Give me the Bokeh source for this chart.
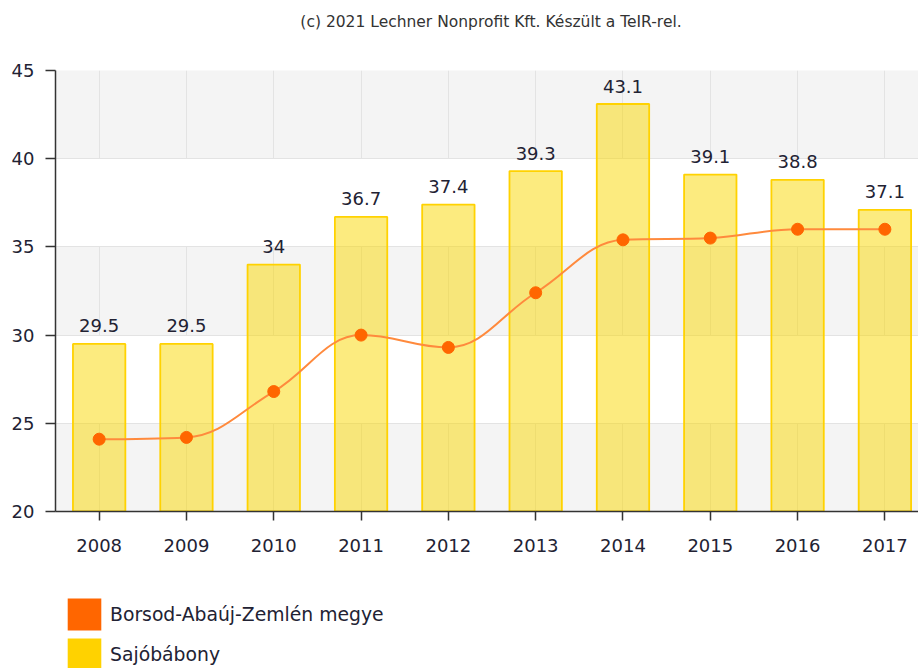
from bokeh.plotting import figure
from bokeh.layouts import column
from bokeh.models import (ColumnDataSource, Range1d, FixedTicker, Legend, LegendItem, Label)
from bokeh.core.properties import value
from bokeh.embed import file_html
from bokeh.resources import INLINE

years = ["2008", "2009", "2010", "2011", "2012", "2013", "2014", "2015", "2016", "2017"]
sajobabony = [29.5, 29.5, 34.0, 36.7, 37.4, 39.3, 43.1, 39.1, 38.8, 37.1]
borsod = [24.1, 24.2, 26.8, 30.0, 29.3, 32.4, 35.4, 35.5, 36.0, 36.0]
y_ticks = [20, 25, 30, 35, 40, 45]
series_names = ["Borsod-Abaúj-Zemlén megye", "Sajóbábony"]
title_text = "(c) 2021 Lechner Nonprofit Kft. Készült a TeIR-rel."

FONT = "DejaVu Sans"
xs = list(range(len(years)))

# ---- title strip ----
t = figure(width=918, height=40, output_backend="svg", toolbar_location=None,
           x_range=Range1d(0, 1), y_range=Range1d(0, 1),
           x_axis_location=None, y_axis_location=None,
           min_border_left=0, min_border_right=0, min_border_top=0, min_border_bottom=0)
t.grid.visible = False
t.outline_line_color = None
t.background_fill_color = "white"
t.border_fill_color = "white"
t.add_layout(Label(x=0.5, y=19, x_units="data", y_units="screen", x_offset=4,
                   text=title_text, text_font=FONT, text_font_size="15.5px",
                   text_color="#333333", text_align="center", text_baseline="middle"))

# ---- main chart ----
p = figure(width=918, height=530, output_backend="svg", toolbar_location=None,
           x_range=Range1d(-0.5, 9.385), y_range=Range1d(20, 45),
           min_border_left=55, min_border_right=0, min_border_top=30, min_border_bottom=59)
p.background_fill_color = "#f4f4f4"
p.border_fill_color = "white"
p.outline_line_color = None

# grids
p.xgrid.ticker = FixedTicker(ticks=xs)
p.xgrid.grid_line_color = "#e3e3e3"
p.ygrid.ticker = FixedTicker(ticks=y_ticks)
p.ygrid.grid_line_color = "#e3e3e3"
p.ygrid.band_fill_color = "white"
p.ygrid.band_fill_alpha = 1.0

# axes
p.xaxis.ticker = FixedTicker(ticks=xs)
p.xaxis.major_label_overrides = {i: y for i, y in enumerate(years)}
p.yaxis.ticker = FixedTicker(ticks=y_ticks)
for ax in (p.xaxis[0], p.yaxis[0]):
    ax.axis_line_color = "#333333"
    ax.axis_line_width = 1.5
    ax.major_tick_line_color = "#333333"
    ax.major_tick_line_width = 1.5
    ax.major_tick_in = 0
    ax.minor_tick_line_color = None
    ax.major_label_text_font = FONT
    ax.major_label_text_font_size = "18px"
    ax.major_label_text_color = "#222233"
p.yaxis.major_tick_out = 10
p.yaxis.major_label_standoff = 11
p.xaxis.major_tick_out = 9
p.xaxis.major_label_standoff = 18

# bars
bar_src = ColumnDataSource(dict(x=xs, top=sajobabony,
                                label=[f"{v:g}" for v in sajobabony]))
p.vbar(x="x", top="top", bottom=20, width=0.6, source=bar_src,
       fill_color="#fad700", fill_alpha=0.5, line_color="#ffd200", line_width=1.8)
p.text(x="x", y="top", text="label", source=bar_src, text_font=value(FONT),
       text_font_size="18px", text_color="#222233", text_align="center",
       text_baseline="alphabetic", y_offset=-18)

# smooth spline (Highcharts-style) through the county values
def spline_segments(xv, yv, smoothing=1.5):
    n = len(xv)
    right = [None] * n
    segs = []
    for i in range(n):
        px, py = xv[i], yv[i]
        lcx, lcy = px, py
        if 0 < i < n - 1:
            lx, ly = xv[i - 1], yv[i - 1]
            nx, ny = xv[i + 1], yv[i + 1]
            d = smoothing + 1
            lcx = (smoothing * px + lx) / d
            lcy = (smoothing * py + ly) / d
            rcx = (smoothing * px + nx) / d
            rcy = (smoothing * py + ny) / d
            corr = 0.0
            if rcx != lcx:
                corr = (rcy - lcy) * (rcx - px) / (rcx - lcx) + py - rcy
            lcy += corr
            rcy += corr
            if lcy > ly and lcy > py:
                lcy = max(ly, py); rcy = 2 * py - lcy
            elif lcy < ly and lcy < py:
                lcy = min(ly, py); rcy = 2 * py - lcy
            if rcy > ny and rcy > py:
                rcy = max(ny, py); lcy = 2 * py - rcy
            elif rcy < ny and rcy < py:
                rcy = min(ny, py); lcy = 2 * py - rcy
            right[i] = (rcx, rcy)
        if i > 0:
            rc = right[i - 1] if right[i - 1] is not None else (xv[i - 1], yv[i - 1])
            segs.append((xv[i - 1], yv[i - 1], px, py, rc[0], rc[1], lcx, lcy))
    return segs

segs = spline_segments(xs, borsod)
bz = ColumnDataSource(dict(
    x0=[s[0] for s in segs], y0=[s[1] for s in segs],
    x1=[s[2] for s in segs], y1=[s[3] for s in segs],
    cx0=[s[4] for s in segs], cy0=[s[5] for s in segs],
    cx1=[s[6] for s in segs], cy1=[s[7] for s in segs]))
p.bezier(x0="x0", y0="y0", x1="x1", y1="y1", cx0="cx0", cy0="cy0", cx1="cx1", cy1="cy1",
         source=bz, line_color="#ff8a3d", line_width=2)
p.scatter(x=xs, y=borsod, size=12, fill_color="#ff6600", line_color="#ff6600")

# ---- legend strip ----
lg = figure(width=918, height=98, output_backend="svg", toolbar_location=None,
            x_range=Range1d(0, 1), y_range=Range1d(0, 1),
            x_axis_location=None, y_axis_location=None,
            min_border_left=0, min_border_right=0, min_border_top=0, min_border_bottom=0)
lg.grid.visible = False
lg.outline_line_color = None
lg.background_fill_color = "white"
lg.border_fill_color = "white"
r1 = lg.vbar(x=xs, top=borsod, width=0.5, fill_color="#ff6600", line_color=None, visible=False)
r2 = lg.vbar(x=xs, top=sajobabony, width=0.5, fill_color="#ffd200", line_color=None, visible=False)
legend = Legend(items=[LegendItem(label=series_names[0], renderers=[r1]),
                       LegendItem(label=series_names[1], renderers=[r2])],
                location=(8, -6), orientation="vertical",
                glyph_width=42, glyph_height=40, spacing=0, padding=0, margin=0,
                label_standoff=5, label_text_font=FONT, label_text_font_size="18.8px",
                label_text_color="#222233", border_line_color=None,
                background_fill_alpha=0, inactive_fill_alpha=0)
lg.add_layout(legend, "center")

layout = column(t, p, lg, spacing=0)
open("out.html", "w").write(file_html(layout, INLINE))
